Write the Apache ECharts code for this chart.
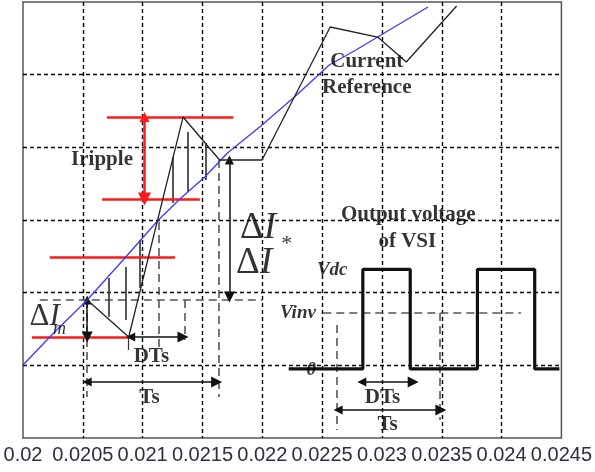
<!DOCTYPE html>
<html><head><meta charset="utf-8">
<script src="https://cdn.jsdelivr.net/npm/echarts@6/dist/echarts.min.js"></script>
<style>html,body{margin:0;padding:0;background:#fff}#c{width:595px;height:472px}</style>
</head><body><div id="c"></div>
<script>
// ---- data (time in s, current/voltage in arbitrary grid units) ----
const xTickLabels = ['0.02','0.0205','0.021','0.0215','0.022','0.0225','0.023','0.0235','0.024','0.0245'];

// current reference (blue)
const refX = [0.02, 0.0202642, 0.0205367, 0.0208587, 0.0211311, 0.0213210, 0.0215192, 0.0217091, 0.0219980, 0.0222870, 0.0225595, 0.0227824, 0.0229640, 0.0233851];
const refY = [1.005, 1.459, 1.899, 2.491, 3.000, 3.303, 3.592, 3.922, 4.307, 4.720, 5.133, 5.339, 5.518, 5.931];

// actual current (black)
const curX = [0.0205367, 0.0208834, 0.0213375, 0.0216430, 0.0219980, 0.0225677, 0.0229640, 0.0232034, 0.0236245];
const curY = [1.899, 1.390, 4.417, 3.826, 3.826, 5.656, 5.518, 5.174, 5.945];

// output voltage of VSI (square wave)
const vsiX = [0.0222209, 0.0228402, 0.0228402, 0.0232365, 0.0232365, 0.0237979, 0.0237979, 0.0242768, 0.0242768, 0.0244832];
const vsiY = [0.950, 0.950, 2.320, 2.320, 0.950, 0.950, 2.320, 2.320, 0.950, 0.950];

// red band lines: start x, end x, level
const bandX1 = [0.0207018, 0.0206605, 0.0202229, 0.0200743];
const bandX2 = [0.0217586, 0.0214779, 0.0212715, 0.0208834];
const bandY  = [4.417, 3.289, 2.491, 1.390];

// hatching verticals
const hatchX   = [0.0207183, 0.0208587, 0.0209742, 0.0212550, 0.0213788, 0.0215274];
const hatchTop = [2.202, 2.353, 2.725, 3.867, 4.211, 4.059];
const hatchBot = [1.665, 1.624, 2.064, 3.234, 3.385, 3.550];

// dashed guide segments [x1, y1, x2, y2]
const guideSegs = [
  [0.0201404, 1.899, 0.0219980, 1.899],
  [0.0205367, 1.899, 0.0205367, 0.564],
  [0.0211311, 2.972, 0.0211311, 1.252],
  [0.0213540, 1.899, 0.0213540, 1.349],
  [0.0216347, 3.826, 0.0216347, 0.564],
  [0.0225099, 1.720, 0.0241612, 1.720],
  [0.0226255, 1.555, 0.0226255, 0.110],
  [0.0234842, 1.720, 0.0234842, 0.248]
];
const tickSegs = [[0.0208834, 1.390, 0.0208834, 1.211]];

// double arrows [x1, y1, x2, y2]
const arrowSegs = [
  [0.0205367, 1.899, 0.0205367, 1.390],
  [0.0208999, 1.390, 0.0213375, 1.390],
  [0.0205367, 0.771, 0.0216182, 0.771],
  [0.0217256, 3.826, 0.0217256, 1.940],
  [0.0228319, 0.771, 0.0232612, 0.771],
  [0.0226338, 0.385, 0.0234924, 0.385]
];
const rippleArrow = [0.0210155, 4.417, 0.0210155, 3.289];

// annotations
const notes = [
  {t:'{b|Iripple}', x:0.0206605, y:3.826},
  {t:'{b|Current}', x:0.0228732, y:5.174},
  {t:'{b|Reference}', x:0.0228732, y:4.816},
  {t:'{b|Output voltage}', x:0.0232200, y:3.069},
  {t:'{b|of VSI}', x:0.0232117, y:2.697},
  {t:'{bi|Vdc}', x:0.0225843, y:2.312},
  {t:'{b|DTs}', x:0.0210733, y:1.115},
  {t:'{b|Ts}', x:0.0210568, y:0.550},
  {t:'{b|DTs}', x:0.0230053, y:0.550},
  {t:'{b|Ts}', x:0.0230466, y:0.179},
  {t:'{d|Δ}{i|I}', x:0.0219650, y:2.880},
  {t:'{d|Δ}{i|I}', x:0.0219320, y:2.400},
  {t:'{s|*}', x:0.0222045, y:2.660},
  {t:'{dm|Δ}{im|I}', x:0.0201816, y:1.665},
  {t:'{sm|m}', x:0.0203055, y:1.500}
];
const rightNotes = [
  {t:'{bi|Vinv}', x:0.0224521, y:1.720},
  {t:'{bi|0}', x:0.0224521, y:0.935}
];

const serif = 'Liberation Serif, Times New Roman, serif';
const base = {textBorderWidth:0, textShadowBlur:0, color:'#000'};
const rich = {
  b:Object.assign({fontFamily:serif, fontWeight:'bold', fontSize:21}, base),
  bi:Object.assign({fontFamily:serif, fontWeight:'bold', fontStyle:'italic', fontSize:19}, base),
  d:Object.assign({fontFamily:serif, fontSize:37}, base),
  i:Object.assign({fontFamily:serif, fontStyle:'italic', fontSize:37}, base),
  s:Object.assign({fontFamily:serif, fontSize:22}, base),
  dm:Object.assign({fontFamily:serif, fontSize:31}, base),
  im:Object.assign({fontFamily:serif, fontStyle:'italic', fontSize:31}, base),
  sm:Object.assign({fontFamily:serif, fontStyle:'italic', fontSize:18}, base)
};

const zip = (xs, ys) => xs.map((x, i) => [x, ys[i]]);
const segData = arr => arr.map(s => ({coords:[[s[0], s[1]], [s[2], s[3]]]}));
const labelBase = {show:true, color:'#000', textBorderWidth:0, textBorderColor:'transparent', rich:rich};

const chart = echarts.init(document.getElementById('c'), null, {renderer:'canvas'});
chart.setOption({
  animation:false,
  backgroundColor:'#fff',
  grid:{left:23, right:27.5, top:2, bottom:34, show:true, borderColor:'#555', borderWidth:1.5, backgroundColor:'#fff'},
  xAxis:{
    type:'value', min:0.02, max:0.0245, interval:0.0005,
    axisLine:{show:false}, axisTick:{show:false},
    splitLine:{show:true, showMinLine:false, showMaxLine:false, lineStyle:{color:'#000', type:[4,3], width:1.4}},
    axisLabel:{margin:7, color:'#2e2e40', fontSize:20, fontFamily:'Liberation Sans Narrow, Liberation Sans, Arial, sans-serif',
      formatter: v => xTickLabels[Math.round((v - 0.02) / 0.0005)] || ''}
  },
  yAxis:{
    type:'value', min:0, max:6, interval:1,
    axisLine:{show:false}, axisTick:{show:false}, axisLabel:{show:false},
    splitLine:{show:true, showMinLine:false, showMaxLine:false, lineStyle:{color:'#000', type:[4,3], width:1.4}}
  },
  series:[
    {type:'lines', coordinateSystem:'cartesian2d', silent:true, z:3,
      lineStyle:{color:'#555', width:1.6, type:[8,5], opacity:1}, data:segData(guideSegs)},
    {type:'lines', coordinateSystem:'cartesian2d', silent:true, z:3,
      lineStyle:{color:'#333', width:1.2, opacity:1}, data:segData(tickSegs)},
    {type:'lines', coordinateSystem:'cartesian2d', silent:true, z:3,
      lineStyle:{color:'#444', width:1.8, opacity:1},
      data:hatchX.map((x, i) => ({coords:[[x, hatchTop[i]], [x, hatchBot[i]]]}))},
    {type:'lines', coordinateSystem:'cartesian2d', silent:true, z:4,
      lineStyle:{color:'#ff1a1a', width:2.5, opacity:1},
      data:bandY.map((y, i) => ({coords:[[bandX1[i], y], [bandX2[i], y]]}))},
    {type:'lines', coordinateSystem:'cartesian2d', silent:true, z:5,
      symbol:['triangle','triangle'], symbolSize:[10,13],
      lineStyle:{color:'#ff1a1a', width:2.5, opacity:1}, data:segData([rippleArrow])},
    {type:'lines', coordinateSystem:'cartesian2d', silent:true, z:5,
      symbol:['triangle','triangle'], symbolSize:[9,11],
      lineStyle:{color:'#111', width:1.5, opacity:1}, data:segData(arrowSegs)},
    {type:'line', data:zip(refX, refY), showSymbol:false, symbol:'none', z:6,
      lineStyle:{color:'#3a3aff', width:1.3}},
    {type:'line', data:zip(curX, curY), showSymbol:false, symbol:'none', z:6,
      lineStyle:{color:'#222', width:1.3}},
    {type:'line', data:zip(vsiX, vsiY), showSymbol:false, symbol:'none', z:6,
      lineStyle:{color:'#111', width:3.2}},
    {type:'scatter', symbolSize:1, itemStyle:{color:'rgba(0,0,0,0)'}, z:8, silent:true,
      label:Object.assign({position:'inside'}, labelBase),
      data:notes.map(n => ({value:[n.x, n.y], label:{formatter:n.t}}))},
    {type:'scatter', symbolSize:1, itemStyle:{color:'rgba(0,0,0,0)'}, z:8, silent:true,
      label:Object.assign({position:'left', distance:0}, labelBase),
      data:rightNotes.map(n => ({value:[n.x, n.y], label:{formatter:n.t}}))}
  ]
});
</script></body></html>
